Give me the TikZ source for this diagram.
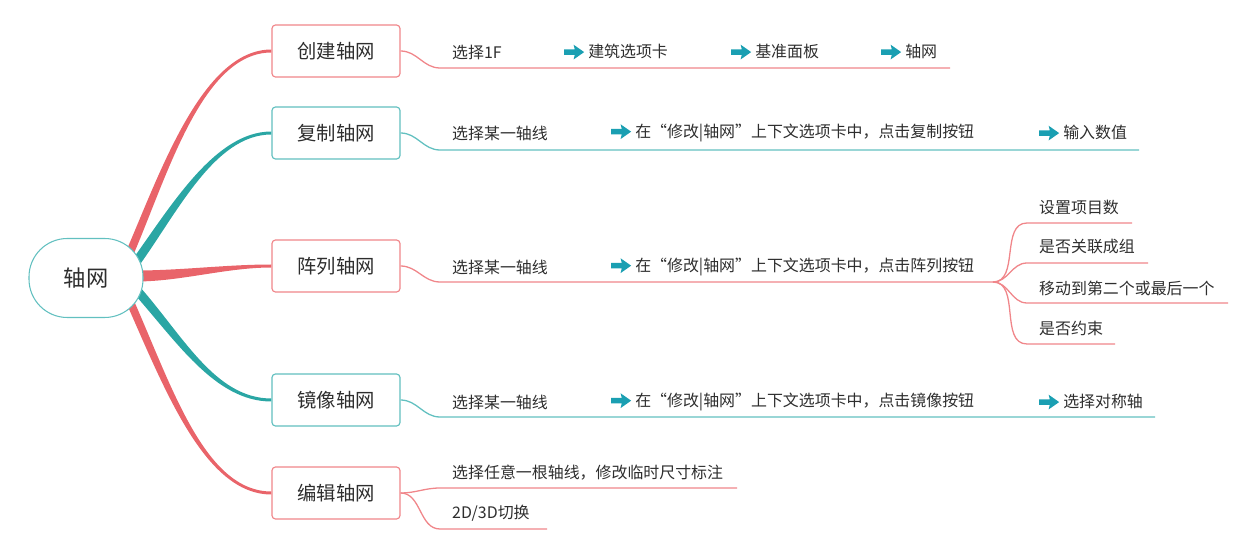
\documentclass[tikz,border=0pt]{standalone}
\usepackage{fontspec}
\setmainfont{Noto Sans CJK SC}
\usepackage{tikz}
\usetikzlibrary{backgrounds}
\definecolor{redc}{HTML}{E9646A}
\definecolor{redl}{HTML}{F0868A}
\definecolor{tealc}{HTML}{2AA6A4}
\definecolor{teall}{HTML}{62C0C0}
\definecolor{arrc}{HTML}{1A9FB2}
\definecolor{ink}{HTML}{2E2E2E}
\newcommand{\arr}{\tikz[baseline=-5pt, x=1pt, y=1pt]\fill[arrc] (0,-2.3) -- (9,-2.3) -- (8,-6.3)
  -- (17,0) -- (8,6.3) -- (9,2.3) -- (0,2.3) -- cycle;\hspace{3.5pt}}

\begin{document}
\begin{tikzpicture}[x=0.03cm, y=-0.03cm,
  rootnode/.style={draw=teall, line width=0.9pt, fill=white, rounded corners=1.15cm,
                   minimum width=3.42cm, minimum height=2.37cm,
                   font=\fontsize{19}{22}\selectfont, text=ink},
  topic/.style={draw, rounded corners=3pt, line width=1pt, fill=white,
                minimum width=3.84cm, minimum height=1.56cm,
                font=\fontsize{16.5}{20}\selectfont, text=ink},
  item/.style={anchor=west, inner sep=0pt, font=\fontsize{13.6}{16}\selectfont, text=ink},
  thin/.style={line width=1.1pt}
]
  \useasboundingbox (0,0) rectangle (1250,544);

  % Central topic and main topics
  \node[rootnode] (root) at (86,278) {轴网};
  \node[topic, draw=redl]  (b1) at (336,51)  {创建轴网};
  \node[topic, draw=teall] (b2) at (336,133) {复制轴网};
  \node[topic, draw=redl]  (b3) at (336,266) {阵列轴网};
  \node[topic, draw=teall] (b4) at (336,400) {镜像轴网};
  \node[topic, draw=redl]  (b5) at (336,493) {编辑轴网};

  % Row 1
  \node[item] (t11) at (452,52) {选择1F};
  \node[item] (t12) at (564,52) {\arr 建筑选项卡};
  \node[item] (t13) at (731,52) {\arr 基准面板};
  \node[item] (t14) at (881,52) {\arr 轴网};
  % Row 2
  \node[item] (t21) at (452,133) {选择某一轴线};
  \node[item] (t22) at (611,133) {\arr 在“修改|轴网”上下文选项卡中，点击复制按钮};
  \node[item] (t23) at (1039,133) {\arr 输入数值};
  % Row 3
  \node[item] (t31) at (452,267) {选择某一轴线};
  \node[item] (t32) at (611,267) {\arr 在“修改|轴网”上下文选项卡中，点击阵列按钮};
  \node[item] (t33) at (1039,207) {设置项目数};
  \node[item] (t34) at (1039,247) {是否关联成组};
  \node[item] (t35) at (1039,288) {移动到第二个或最后一个};
  \node[item] (t36) at (1039,328) {是否约束};
  % Row 4
  \node[item] (t41) at (452,402) {选择某一轴线};
  \node[item] (t42) at (611,402) {\arr 在“修改|轴网”上下文选项卡中，点击镜像按钮};
  \node[item] (t43) at (1039,402) {\arr 选择对称轴};
  % Row 5
  \node[item] (t51) at (452,473) {选择任意一根轴线，修改临时尺寸标注};
  \node[item] (t52) at (452,513) {2D/3D切换};

  % line ends
  \coordinate (l1) at (440,68);   \coordinate (e1) at (950,68);
  \coordinate (l2) at (440,150);  \coordinate (e2) at (1139,150);
  \coordinate (l3) at (440,282);  \coordinate (f3) at (993,282);
  \coordinate (s31) at (1027,223); \coordinate (e31) at (1132,223);
  \coordinate (s32) at (1027,263); \coordinate (e32) at (1148,263);
  \coordinate (s33) at (1027,303); \coordinate (e33) at (1228,303);
  \coordinate (s34) at (1027,344); \coordinate (e34) at (1115,344);
  \coordinate (l4) at (440,417);  \coordinate (e4) at (1155,417);
  \coordinate (l51) at (440,488); \coordinate (e51) at (737,488);
  \coordinate (l52) at (440,529); \coordinate (e52) at (547,529);

  % Sub-topic lines
  \draw[thin, redl] (b1.east) to[out=0,in=180] (l1) -- (e1);
  \draw[thin, teall] (b2.east) to[out=0,in=180] (l2) -- (e2);
  \draw[thin, redl] (b3.east) to[out=0,in=180] (l3) -- (f3);
  \draw[thin, redl] (f3) to[out=0,in=180] (s31) -- (e31);
  \draw[thin, redl] (f3) to[out=0,in=180] (s32) -- (e32);
  \draw[thin, redl] (f3) to[out=0,in=180] (s33) -- (e33);
  \draw[thin, redl] (f3) to[out=0,in=180] (s34) -- (e34);
  \draw[thin, teall] (b4.east) to[out=0,in=180] (l4) -- (e4);
  \draw[thin, redl] (b5.east) to[out=0,in=180] (l51) -- (e51);
  \draw[thin, redl] (b5.east) to[out=0,in=180] (l52) -- (e52);

  % Main branches (tapered), behind the topics
  \coordinate (r1) at (128,257);
  \coordinate (r2) at (134,265);
  \coordinate (r3) at (136,276);
  \coordinate (r4) at (134,287);
  \coordinate (r5) at (128,297);
  \begin{scope}[on background layer]
    \fill[redc] ([shift={(-3.7,-1.6)}]r1) .. controls +(35,-80) and +(-70,0) .. ([shift={(0,-1.5)}]b1.west)
      -- ([shift={(0,1.5)}]b1.west) .. controls +(-70,0) and +(35,-80) .. ([shift={(3.7,1.6)}]r1) -- cycle;
    \fill[tealc] ([shift={(-3.6,-2.7)}]r2) .. controls +(40,-55) and +(-57,0) .. ([shift={(0,-1.5)}]b2.west)
      -- ([shift={(0,1.5)}]b2.west) .. controls +(-57,0) and +(40,-55) .. ([shift={(3.6,2.7)}]r2) -- cycle;
    \fill[redc] ([shift={(0,-5.5)}]r3) .. controls +(45,0) and +(-45,0) .. ([shift={(0,-1.5)}]b3.west)
      -- ([shift={(0,1.5)}]b3.west) .. controls +(-45,0) and +(45,0) .. ([shift={(0,5.5)}]r3) -- cycle;
    \fill[tealc] ([shift={(3.3,-3.0)}]r4) .. controls +(45,50) and +(-57,0) .. ([shift={(0,-1.5)}]b4.west)
      -- ([shift={(0,1.5)}]b4.west) .. controls +(-57,0) and +(45,50) .. ([shift={(-3.3,3.0)}]r4) -- cycle;
    \fill[redc] ([shift={(3.6,-1.6)}]r5) .. controls +(40,90) and +(-67,0) .. ([shift={(0,-1.5)}]b5.west)
      -- ([shift={(0,1.5)}]b5.west) .. controls +(-67,0) and +(40,90) .. ([shift={(-3.6,1.6)}]r5) -- cycle;
  \end{scope}
\end{tikzpicture}
\end{document}
